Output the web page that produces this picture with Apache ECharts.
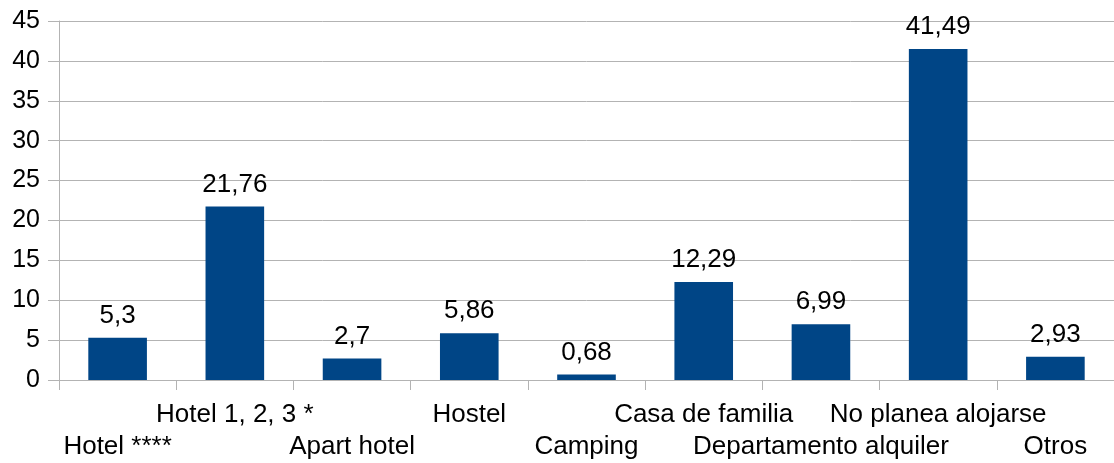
<!DOCTYPE html>
<html>
<head>
<meta charset="utf-8">
<script src="https://cdn.jsdelivr.net/npm/echarts@6/dist/echarts.min.js"></script>
<style>
  html, body { margin: 0; padding: 0; background: #fff; }
</style>
</head>
<body>
<div id="myChart" style="width: 1114px; height: 463px"></div>
<script>
// categories and values
const categories = [
  "Hotel ****", "Hotel 1, 2, 3 *", "Apart hotel", "Hostel", "Camping",
  "Casa de familia", "Departamento alquiler", "No planea alojarse", "Otros"
];
const values = [5.3, 21.76, 2.7, 5.86, 0.68, 12.29, 6.99, 41.49, 2.93];

const gridColor = "#b3b3b3";
const font = "'Liberation Sans', Arial, sans-serif";

let myChart = echarts.init(document.getElementById("myChart"));
myChart.setOption({
  animation: false,
  textStyle: { fontFamily: font },
  // plot area runs a little past the right edge, as in the original
  grid: { left: 59, width: 1058, top: 21, bottom: 83 },
  xAxis: {
    type: "category",
    data: categories,
    axisLine: { lineStyle: { color: gridColor } },
    axisTick: { show: true, length: 10, lineStyle: { color: gridColor } },
    axisLabel: {
      interval: 0,
      margin: 19,
      fontSize: 26,
      lineHeight: 32,
      color: "#000",
      fontFamily: font,
      // alternate labels go to the second row
      formatter: (name, i) => (i % 2 === 0 ? "\n" + name : name)
    }
  },
  yAxis: {
    type: "value",
    min: 0,
    max: 45,
    interval: 5,
    axisLine: { show: true, lineStyle: { color: gridColor } },
    axisTick: { show: true, length: 11, lineStyle: { color: gridColor } },
    splitLine: { lineStyle: { color: gridColor } },
    axisLabel: { fontSize: 25, color: "#000", margin: 19, fontFamily: font }
  },
  series: [
    {
      type: "bar",
      data: values,
      barWidth: "50%",
      itemStyle: { color: "#004586" },
      label: {
        show: true,
        position: "top",
        distance: 9,
        fontSize: 26,
        color: "#000",
        fontFamily: font,
        formatter: (p) => String(p.value).replace(".", ",")
      }
    }
  ]
});
</script>
</body>
</html>
